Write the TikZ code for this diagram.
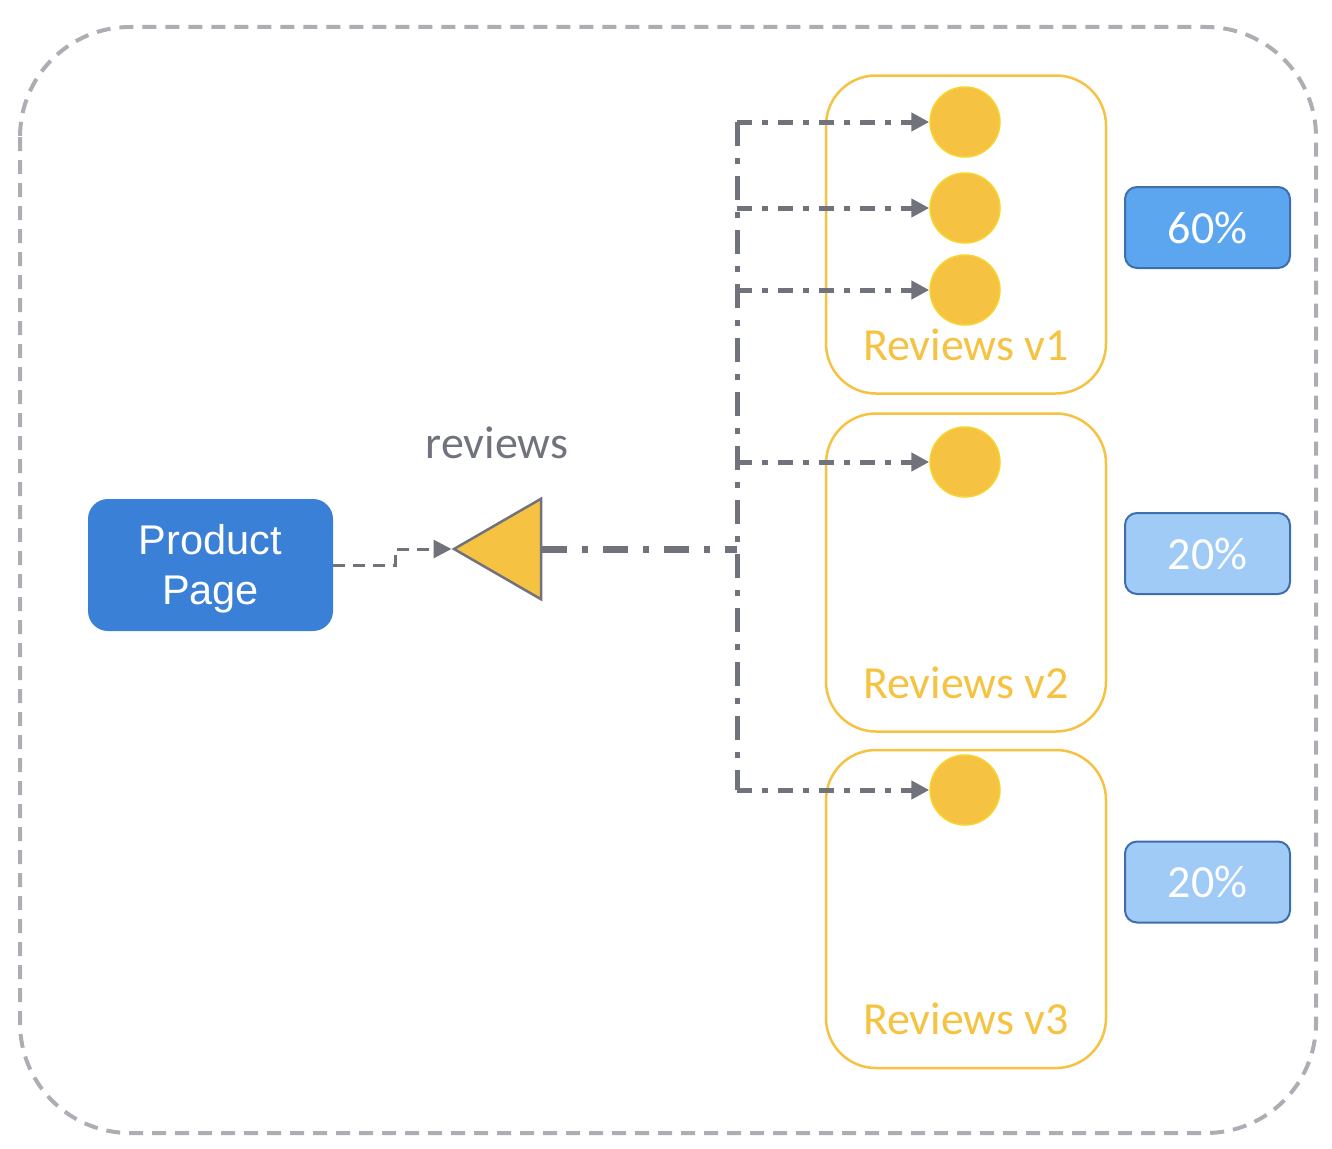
\documentclass[tikz,border=0pt]{standalone}
\usepackage{fontspec}
\setmainfont{Carlito}
\newfontfamily\arialfont{Liberation Sans}
\usetikzlibrary{arrows.meta,shapes.geometric}
\definecolor{meshgray}{RGB}{172,174,180}
\definecolor{linkgray}{RGB}{112,114,124}
\definecolor{podyellow}{RGB}{245,194,66}
\definecolor{pageblue}{RGB}{58,128,214}
\definecolor{edgeblue}{RGB}{62,110,172}
\definecolor{darkshare}{RGB}{92,166,240}
\definecolor{lightshare}{RGB}{160,203,247}
\newcommand{\bigtext}{\fontsize{46}{55}\selectfont}

\begin{document}
\begin{tikzpicture}
                \tikzset{x=1pt, y=-1pt}
                \tikzstyle{svc}=[rectangle, rounded corners=50, draw=podyellow, line width=2.5, minimum width=280, minimum height=318]
                \tikzstyle{pod}=[circle, fill=podyellow, draw=podyellow!70!yellow, line width=1.5, minimum size=70, inner sep=0]
                \tikzstyle{share}=[rectangle, rounded corners=12, draw=edgeblue, line width=2, minimum width=165, minimum height=81, text=white, font=\bigtext]
                \tikzstyle{route}=[draw=linkgray, line width=5, dash pattern=on 15 off 10 on 6 off 10]
                \tikzstyle{tip}=[-{Triangle[length=18, width=18]}]

                \useasboundingbox (0,0) rectangle (1332,1148);
                \draw[meshgray, line width=4, dash pattern=on 14 off 9, rounded corners=110] (20,27) rectangle (1316,1133);

                \draw (210.5, 565.0) node[rectangle, rounded corners=20, fill=pageblue, minimum width=245, minimum height=132] (page) {};
                \draw (210.5, 569.0) node[text=white, align=center, font=\arialfont\fontsize{41.5}{50}\selectfont] (pagetext) {Product\\Page};
                \draw (497.0, 443.0) node[text=linkgray, font=\bigtext] (name) {reviews};
                \draw (512.0, 549.0) node[isosceles triangle, shape border rotate=180, isosceles triangle apex angle=60, fill=podyellow, draw=linkgray, line width=2.5, minimum height=87, inner sep=0] (vs) {};

                \draw (966.0, 234.5) node[svc]   (v1)    {};
                \draw (966.0, 572.5) node[svc]   (v2)    {};
                \draw (966.0, 909.0) node[svc]   (v3)    {};
                \draw (966.0, 345.0) node[text=podyellow, font=\bigtext] (l1) {Reviews v1};
                \draw (966.0, 683.0) node[text=podyellow, font=\bigtext] (l2) {Reviews v2};
                \draw (966.0, 1019.0) node[text=podyellow, font=\bigtext] (l3) {Reviews v3};

                \draw (965.0, 122.0) node[pod]   (p1)    {};
                \draw (965.0, 208.0) node[pod]   (p2)    {};
                \draw (965.0, 290.0) node[pod]   (p3)    {};
                \draw (965.0, 462.0) node[pod]   (p4)    {};
                \draw (965.0, 790.0) node[pod]   (p5)    {};

                \draw (1207.5, 227.5) node[share, fill=darkshare]  (s1) {60\%};
                \draw (1207.5, 553.5) node[share, fill=lightshare] (s2) {20\%};
                \draw (1207.5, 882.0) node[share, fill=lightshare] (s3) {20\%};

                % bus on the left of the pods
                \coordinate (b1) at (737.0, 122.0);
                \coordinate (b2) at (737.0, 208.0);
                \coordinate (b3) at (737.0, 290.0);
                \coordinate (b4) at (737.0, 462.0);
                \coordinate (b5) at (737.0, 790.0);
                \coordinate (hub) at (737.0, 549.0);

                \draw [linkgray, line width=3, dash pattern=on 12 off 8, tip] (page.east) -- ++(62,0) |- (vs.apex);
                \draw [route, line width=7, dash pattern=on 25 off 15 on 6 off 15] (vs.east) -- (hub);
                \draw [route, dash pattern=on 24 off 12 on 6 off 12] (b1) -- (b5);
                \foreach \k in {1,...,5}
                    \draw [route, tip] (b\k) -- (p\k);
            \end{tikzpicture}
\end{document}
